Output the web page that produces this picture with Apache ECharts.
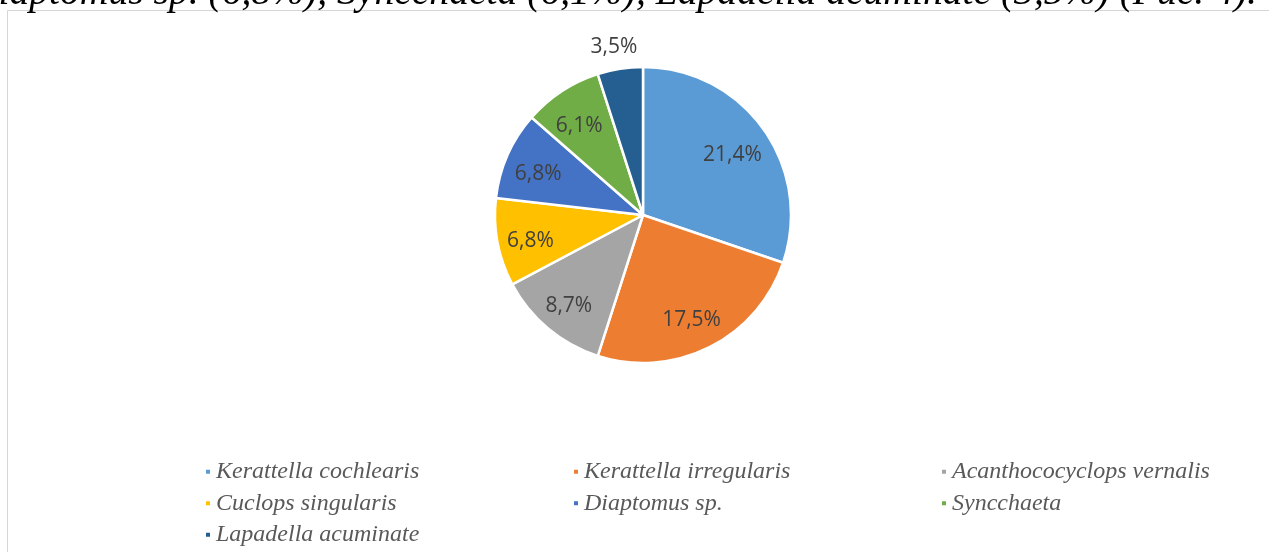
<!DOCTYPE html>
<html>
<head>
<meta charset="utf-8">
<script src="https://cdn.jsdelivr.net/npm/echarts@6/dist/echarts.min.js"></script>
<style>
  html, body { margin: 0; padding: 0; background: #fff; }
  #main { width: 1269px; height: 552px; }
</style>
</head>
<body>
<div id="main"></div>
<script>
var species = ['Kerattella cochlearis', 'Kerattella irregularis', 'Acanthococyclops vernalis',
  'Cuclops singularis', 'Diaptomus sp.', 'Syncchaeta', 'Lapadella acuminate'];
var shares = [21.4, 17.5, 8.7, 6.8, 6.8, 6.1, 3.5];
var colors = ['#5B9BD5', '#ED7D31', '#A5A5A5', '#FFC000', '#4472C4', '#70AD47', '#255E91'];
var outsideLabel = 'Lapadella acuminate';   // too thin, Excel put its label outside

var chartDom = document.getElementById('main');
var myChart = echarts.init(chartDom, null, { renderer: 'canvas' });

function fmt(p) {
  return String(p.value).replace('.', ',') + '%';
}

var center = [643, 215];
var labelCenter = [641, 220];   // labels sit a little lower/left in the original
var R = 148;

var labelFont = { fontFamily: 'Open Sans', fontSize: 21, color: '#404040' };

// visible slices
var baseData = species.map(function (name, i) {
  return { name: name, value: shares[i], itemStyle: { color: colors[i] } };
});
// transparent rings, only used to place the labels
var innerLabelData = species.map(function (name, i) {
  return { name: name, value: shares[i], label: { show: name !== outsideLabel } };
});
var outerLabelData = species.map(function (name, i) {
  return { name: name, value: shares[i], label: { show: name === outsideLabel } };
});

var ghost = {
  type: 'pie',
  center: labelCenter,
  startAngle: 90,
  clockwise: true,
  silent: true,
  avoidLabelOverlap: false,
  itemStyle: { color: 'rgba(0,0,0,0)', borderWidth: 0 },
  labelLine: { show: false },
  emphasis: { disabled: true },
  animation: false
};

var option = {
  animation: false,
  color: colors,
  graphic: [
    {
      type: 'rect',
      shape: { x: 7.5, y: 10.5, width: 1300, height: 600 },
      style: { fill: 'none', stroke: '#d6d6d6', lineWidth: 1 },
      silent: true
    },
    {
      type: 'text',
      x: 1257,
      y: -6,
      style: {
        text: 'Diaptomus sp. (6,8%), Syncchaeta (6,1%), Lapadella acuminate (3,5%) (Рис. 4).',
        font: 'italic 39.6px "Liberation Serif"',
        fill: '#000',
        align: 'right',
        verticalAlign: 'middle'
      },
      silent: true
    }
  ],
  legend: {
    left: 199,
    top: 451,
    width: 1110,
    orient: 'horizontal',
    itemWidth: 6,
    itemHeight: 6,
    itemGap: 0,
    icon: 'rect',
    selectedMode: false,
    data: species,
    textStyle: {
      fontFamily: 'Liberation Serif',
      fontStyle: 'italic',
      fontSize: 24,
      color: '#595959',
      width: 356,
      lineHeight: 31.5,
      overflow: 'none'
    }
  },
  series: [
    {
      type: 'pie',
      center: center,
      radius: [0, R],
      startAngle: 90,
      clockwise: true,
      avoidLabelOverlap: false,
      label: { show: false },
      labelLine: { show: false },
      itemStyle: { borderColor: '#fff', borderWidth: 2.5 },
      emphasis: { disabled: true },
      data: baseData
    },
    Object.assign({}, ghost, {
      radius: [71, R],
      label: Object.assign({ position: 'inside', formatter: fmt }, labelFont),
      data: innerLabelData
    }),
    Object.assign({}, ghost, {
      radius: [R, 196],
      label: Object.assign({ position: 'inside', formatter: fmt }, labelFont),
      data: outerLabelData
    })
  ]
};

myChart.setOption(option);
window.addEventListener('resize', function () {
  myChart.resize();
});
</script>
</body>
</html>
